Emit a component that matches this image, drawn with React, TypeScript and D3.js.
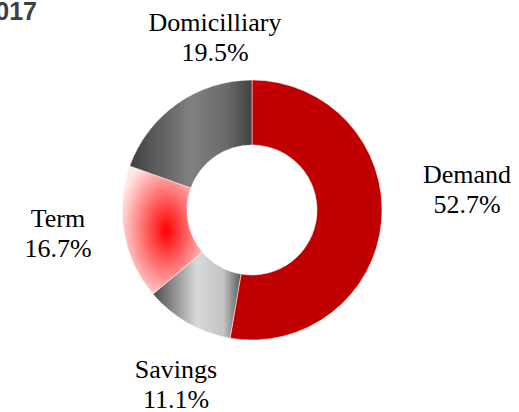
import React from "react";
import * as d3 from "d3";

const categories = ["Demand", "Savings", "Term", "Domicilliary"];
const shares = [52.7, 11.1, 16.7, 19.5];
const percentLabels = ["52.7%", "11.1%", "16.7%", "19.5%"];
const titleText = "2017";

// layout (label anchor points, centre of the two text lines)
const labelPos: Record<string, [number, number]> = {
  Demand: [467, 183],
  Savings: [176, 378],
  Term: [58, 227],
  Domicilliary: [215, 31],
};

const W = 519;
const H = 412;
const cx = 252;
const cy = 210;
const outerR = 130;
const innerR = 65;

export default function App() {
  const pie = d3
    .pie<number>()
    .sort(null)
    .value((d) => d)
    .startAngle(0)
    .endAngle(2 * Math.PI);
  const arcs = pie(shares);
  const arcGen = d3.arc<d3.PieArcDatum<number>>().innerRadius(innerR).outerRadius(outerR);
  const fills = ["url(#gDemand)", "url(#gSavings)", "url(#gTerm)", "url(#gDom)"];

  return (
    <svg
      width={W}
      height={H}
      style={{ position: "absolute", left: 0, top: 0, background: "#fff" }}
    >
      <defs>
        <linearGradient id="gDemand" x1="0" y1="0" x2="1" y2="1">
          <stop offset="0" stopColor="#f20000" />
          <stop offset="0.12" stopColor="#c00000" />
          <stop offset="1" stopColor="#c00000" />
        </linearGradient>
        <linearGradient id="gDom" x1="0" y1="0" x2="1" y2="0">
          <stop offset="0" stopColor="#404040" />
          <stop offset="0.5" stopColor="#808080" />
          <stop offset="0.8" stopColor="#6a6a6a" />
          <stop offset="1" stopColor="#404040" />
        </linearGradient>
        <linearGradient id="gSavings" x1="0" y1="0" x2="1" y2="0">
          <stop offset="0" stopColor="#4a4a4a" />
          <stop offset="0.5" stopColor="#d9d9d9" />
          <stop offset="0.8" stopColor="#c4c4c4" />
          <stop offset="1" stopColor="#5a5a5a" />
        </linearGradient>
        <radialGradient id="gTerm" cx="0.55" cy="0.5" r="0.6">
          <stop offset="0" stopColor="#ff0000" />
          <stop offset="1" stopColor="#ffe8e8" />
        </radialGradient>
      </defs>
      <text
        x={37}
        y={20}
        textAnchor="end"
        fontFamily="Liberation Sans, Arial, sans-serif"
        fontWeight="bold"
        fontSize={25}
        fill="#404040"
      >
        {titleText}
      </text>
      <g transform={`translate(${cx},${cy})`}>
        {arcs.map((a, i) => (
          <path key={categories[i]} d={arcGen(a) || ""} fill={fills[i]} stroke="#fff" strokeWidth={0.5} />
        ))}
      </g>
      {categories.map((c, i) => {
        const [x, y] = labelPos[c];
        return (
          <text
            key={c}
            x={x}
            y={y}
            textAnchor="middle"
            fontFamily="Liberation Serif, serif"
            fontSize={26}
            fill="#000"
          >
            <tspan x={x}>{c}</tspan>
            <tspan x={x} dy={30}>
              {percentLabels[i]}
            </tspan>
          </text>
        );
      })}
    </svg>
  );
}
